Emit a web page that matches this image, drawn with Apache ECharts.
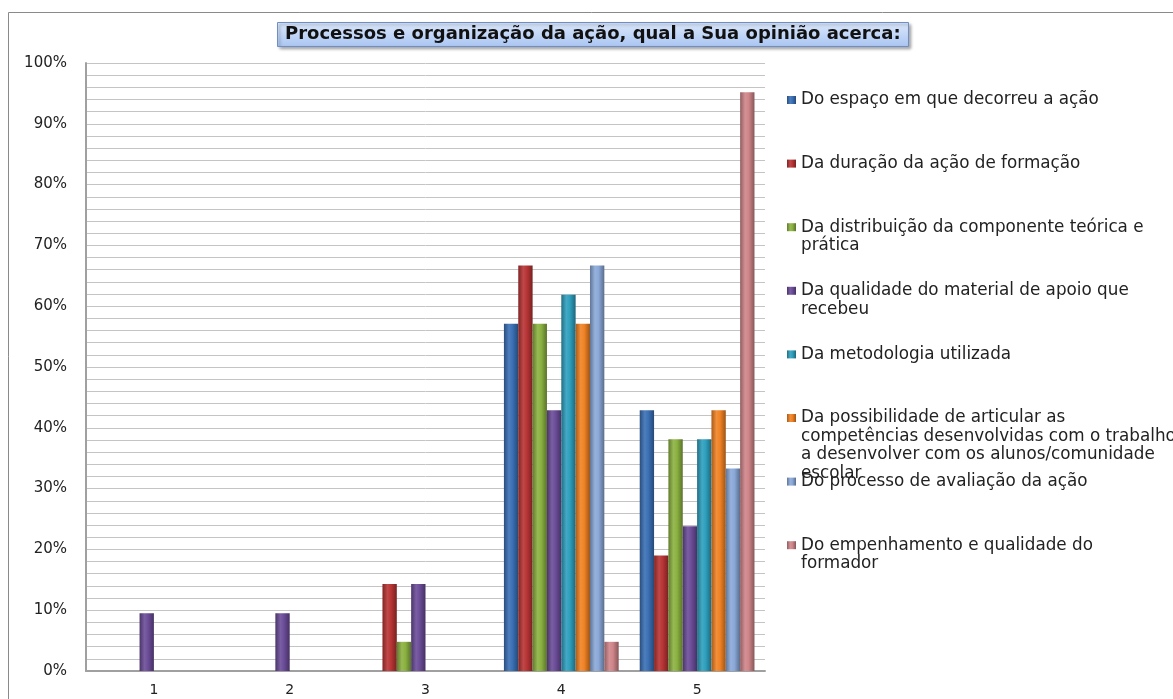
<!DOCTYPE html>
<html><head><meta charset="utf-8">
<script src="https://cdn.jsdelivr.net/npm/echarts@6/dist/echarts.min.js"></script>
<style>html,body{margin:0;padding:0;background:#fff}#c{width:1173px;height:699px}</style>
</head><body><div id="c"></div>
<script>
const categories = ['1','2','3','4','5'];
const seriesNames = [
  'Do espaço em que decorreu a ação',
  'Da duração da ação de formação',
  'Da distribuição da componente teórica e\nprática',
  'Da qualidade do material de apoio que\nrecebeu',
  'Da metodologia utilizada',
  'Da possibilidade de articular as\ncompetências desenvolvidas com o trabalho\na desenvolver com os alunos/comunidade\nescolar',
  'Do processo de avaliação da ação',
  'Do empenhamento e qualidade do\nformador'
];
const espaco      = [0, 0, 0, 57.1, 42.9];
const duracao     = [0, 0, 14.3, 66.7, 19.0];
const distribuicao= [0, 0, 4.8, 57.1, 38.1];
const qualidade   = [9.5, 9.5, 14.3, 42.9, 23.8];
const metodologia = [0, 0, 0, 61.9, 38.1];
const possibilidade=[0, 0, 0, 57.1, 42.9];
const avaliacao   = [0, 0, 0, 66.7, 33.3];
const empenhamento= [0, 0, 0, 4.8, 95.2];
const yTicks = [0,10,20,30,40,50,60,70,80,90,100];

const values = [espaco, duracao, distribuicao, qualidade, metodologia, possibilidade, avaliacao, empenhamento];
const colors = ['#3a70b5','#b83434','#8bb140','#6b4c98','#2e9fbd','#f08224','#8aa8d8','#cf8589'];

function shade(hex, f){
  const n = parseInt(hex.slice(1),16);
  let r=(n>>16)&255,g=(n>>8)&255,b=n&255;
  if(f<0){r=r*(1+f);g=g*(1+f);b=b*(1+f);} else {r=r+(255-r)*f;g=g+(255-g)*f;b=b+(255-b)*f;}
  return 'rgb('+Math.round(r)+','+Math.round(g)+','+Math.round(b)+')';
}
function grad(c){
  return new echarts.graphic.LinearGradient(0,0,1,0,[
    {offset:0,color:shade(c,-0.3)},
    {offset:0.35,color:shade(c,0.1)},
    {offset:0.6,color:c},
    {offset:1,color:shade(c,-0.35)}
  ]);
}

const chart = echarts.init(document.getElementById('c'));
const lh = 18.5;
const legends = seriesNames.map((name,i)=>{
  const n = name.split('\n').length;
  const H = n*lh;
  const a = lh/2 - 4;
  const icon = 'path://M0,0L0,0M0,'+a+'L9,'+a+'L9,'+(a+8)+'L0,'+(a+8)+'ZM9,'+H+'L9,'+H;
  return {
    data:[{name:name, icon:icon, itemStyle:{color:grad(colors[i])}}],
    orient:'vertical', left:787, top: 100 + i*63.6 - lh/2,
    padding:0, itemWidth:9, itemHeight:H, itemGap:0, selectedMode:false,
    textStyle:{fontFamily:'DejaVu Sans', fontSize:16.8, color:'#222', lineHeight:lh}
  };
});

chart.setOption({
  animation:false,
  backgroundColor:'#fff',
  title:{
    text:'Processos e organização da ação, qual a Sua opinião acerca:',
    left:277, top:22,
    padding:[3,8,3,8],
    backgroundColor:new echarts.graphic.LinearGradient(0,0,0,1,[
      {offset:0,color:'#dce8fb'},{offset:1,color:'#a9c5f2'}]),
    borderColor:'#6f8fc4', borderWidth:1,
    shadowColor:'rgba(0,0,0,0.35)', shadowBlur:3, shadowOffsetX:2, shadowOffsetY:2,
    textStyle:{fontFamily:'DejaVu Sans', fontWeight:'bold', fontSize:18, color:'#111', lineHeight:19}
  },
  graphic:[{type:'rect', shape:{x:8.5,y:12.5,width:1200,height:720},
    style:{fill:'none', stroke:'#8a8a8a', lineWidth:1}, silent:true, z:-1}],
  legend: legends,
  grid:{left:86, right:408, top:63, bottom:28},
  xAxis:{type:'category', data:categories,
    axisLine:{lineStyle:{color:'#a0a0a0', width:2}},
    axisTick:{show:false},
    axisLabel:{fontFamily:'DejaVu Sans', fontSize:14, color:'#222', margin:12}},
  yAxis:{type:'value', min:yTicks[0], max:yTicks[yTicks.length-1], interval:10,
    axisLine:{show:true, lineStyle:{color:'#a0a0a0', width:2}},
    axisTick:{show:false},
    axisLabel:{formatter:'{value}%', fontFamily:'DejaVu Sans', fontSize:15, color:'#222', margin:19},
    splitLine:{lineStyle:{color:'#c4c4c4', width:1}},
    minorTick:{show:false, splitNumber:5},
    minorSplitLine:{show:true, lineStyle:{color:'#c4c4c4', width:1}}},
  series: values.map((v,i)=>({
    type:'bar', name:seriesNames[i], data:v,
    barGap:'0%', barCategoryGap:'15.5%',
    itemStyle:{color:grad(colors[i])}
  }))
});
</script></body></html>
